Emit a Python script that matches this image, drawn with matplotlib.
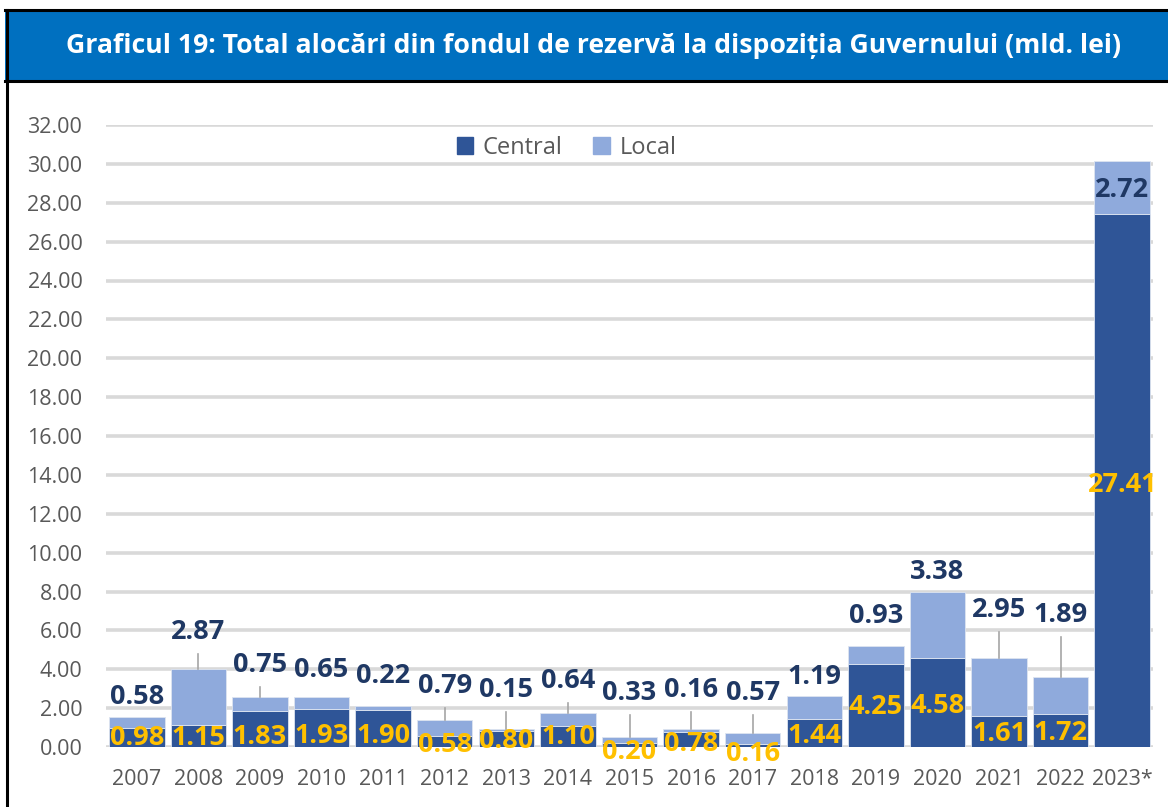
import matplotlib
matplotlib.use("Agg")
from matplotlib import pyplot as plt
from matplotlib.patches import Rectangle, Patch
from matplotlib.lines import Line2D

plt.rcParams['font.family'] = ['Open Sans', 'DejaVu Sans']

# date
ani = ['2007', '2008', '2009', '2010', '2011', '2012', '2013', '2014', '2015',
       '2016', '2017', '2018', '2019', '2020', '2021', '2022', '2023*']
central = [0.98, 1.15, 1.83, 1.93, 1.90, 0.58, 0.80, 1.10, 0.20,
           0.78, 0.16, 1.44, 4.25, 4.58, 1.61, 1.72, 27.41]
local = [0.58, 2.87, 0.75, 0.65, 0.22, 0.79, 0.15, 0.64, 0.33,
         0.16, 0.57, 1.19, 0.93, 3.38, 2.95, 1.89, 2.72]

# pozitia etichetelor (mutate manual ca in original)
y_lab_central = [0.46, 0.46, 0.54, 0.57, 0.57, 0.10, 0.30, 0.50, -0.26,
                 0.15, -0.36, 0.57, 2.06, 2.13, 0.69, 0.70, 13.48]
y_lab_local = [2.57, 5.92, 4.22, 3.96, 3.65, 3.14, 2.93, 3.40, 2.78,
               2.93, 2.78, 3.60, 6.74, 9.00, 7.05, 6.79, 28.65]
cu_linie = [0, 1, 1, 0, 0, 1, 1, 1, 1, 1, 1, 0, 0, 0, 1, 1, 0]

c_central = '#2F5597'
c_local = '#8FAADC'
c_navy = '#1F3864'
c_gold = '#FFC000'
c_gri = '#595959'

fig = plt.figure(figsize=(11.68, 8.07), dpi=100)

# bara de titlu + chenar
fig.add_artist(Rectangle((0.004, 1 - 81 / 807), 1.0, 71 / 807, transform=fig.transFigure,
                         facecolor='#0070C0', edgecolor='none'))
fig.add_artist(Line2D([0.004, 1], [1 - 10 / 807] * 2, transform=fig.transFigure, color='black', lw=2.2))
fig.add_artist(Line2D([0.004, 1], [1 - 81 / 807] * 2, transform=fig.transFigure, color='black', lw=2.2))
fig.add_artist(Line2D([7 / 1168] * 2, [0, 1 - 10 / 807], transform=fig.transFigure, color='black', lw=2.2))
fig.text(0.508, 1 - 46 / 807, 'Graficul 19: Total alocări din fondul de rezervă la dispoziția Guvernului (mld. lei)',
         ha='center', va='center', color='white', fontsize=19.2, fontweight='bold')

ax = fig.add_axes([106 / 1168, 1 - 747 / 807, 1047 / 1168, 622 / 807])
x = range(len(ani))
total = [c + l for c, l in zip(central, local)]

ax.bar(x, central, width=0.9, color=c_central, edgecolor='#DDE4F0', linewidth=0.6, zorder=3, label='Central')
ax.bar(x, local, width=0.9, bottom=central, color=c_local, edgecolor='#DDE4F0', linewidth=0.6, zorder=3, label='Local')

for i in x:
    ax.text(i, y_lab_central[i], f'{central[i]:.2f}', ha='center', va='center', color=c_gold,
            fontsize=19.5, fontweight='bold', zorder=5, clip_on=False)
    ax.text(i, y_lab_local[i], f'{local[i]:.2f}', ha='center', va='center', color=c_navy,
            fontsize=19.5, fontweight='bold', zorder=5, clip_on=False)
    if cu_linie[i]:
        ax.plot([i, i], [y_lab_local[i] - 1.12, total[i]], color='#A6A6A6', lw=1.2, zorder=4)

ax.set_xlim(-0.5, len(ani) - 0.5)
ax.set_ylim(0, 32)
ax.set_yticks(range(0, 33, 2))
ax.set_yticklabels([f'{v:.2f}' for v in range(0, 33, 2)])
ax.set_xticks(list(x))
ax.set_xticklabels(ani)
ax.tick_params(axis='both', length=0, labelsize=15.5, labelcolor=c_gri)
ax.tick_params(axis='y', pad=17)
ax.tick_params(axis='x', pad=16)
ax.grid(axis='y', color='#D9D9D9', lw=2.6, zorder=0)
ax.set_axisbelow(True)
for s in ax.spines.values():
    s.set_visible(False)

handles = [Patch(color=c_central, label='Central'), Patch(color=c_local, label='Local')]
ax.legend(handles=handles, loc='center', bbox_to_anchor=(0.44, 0.963), ncol=2, frameon=False,
          fontsize=17, labelcolor=c_gri, handlelength=0.7, handleheight=0.7,
          handletextpad=0.4, columnspacing=1.3)

plt.savefig('out.png', dpi=100)
